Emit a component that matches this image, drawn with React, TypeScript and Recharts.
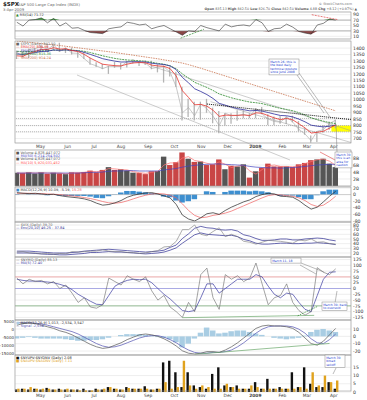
import React from "react";
import {
  ComposedChart,
  Line,
  Bar,
  Area,
  XAxis,
  YAxis,
  CartesianGrid,
  ReferenceLine,
  ReferenceArea,
  Cell,
} from "recharts";

// week ending dates, Apr 2008 - Apr 2009
const weekEnding = [
  "2008-04-04", "04-11", "04-18", "04-25", "05-02", "05-09", "05-16", "05-23", "05-30",
  "06-06", "06-13", "06-20", "06-27", "07-04", "07-11", "07-18", "07-25", "08-01",
  "08-08", "08-15", "08-22", "08-29", "09-05", "09-12", "09-19", "09-26", "10-03",
  "10-10", "10-17", "10-24", "10-31", "11-07", "11-14", "11-21", "11-28", "12-05",
  "12-12", "12-19", "12-26", "2009-01-02", "01-09", "01-16", "01-23", "01-30", "02-06",
  "02-13", "02-20", "02-27", "03-06", "03-13", "03-20", "03-27", "04-03",
];

const monthPos = [3.86, 8.3, 12.6, 17, 21.4, 25.7, 30.1, 34.4, 38.9, 43.3, 47.3, 51.7];
const monthLabels = ["May", "Jun", "Jul", "Aug", "Sep", "Oct", "Nov", "Dec", "2009", "Feb", "Mar", "Apr"];

const closes = [1370, 1332, 1390, 1397, 1413, 1388, 1425, 1375, 1400, 1361, 1360, 1318, 1278, 1262, 1240, 1260, 1257, 1260, 1296, 1298, 1292, 1283, 1242, 1252, 1255, 1213, 1099, 899, 940, 876, 968, 930, 873, 800, 896, 876, 879, 887, 872, 931, 890, 850, 832, 826, 869, 827, 770, 735, 683, 756, 768, 816, 842.5];
const highs = [1380, 1372, 1395, 1400, 1423, 1420, 1426, 1441, 1404, 1404, 1370, 1371, 1326, 1290, 1278, 1262, 1292, 1284, 1300, 1313, 1300, 1304, 1303, 1274, 1265, 1256, 1216, 1100, 1007, 985, 985, 1007, 939, 912, 897, 896, 918, 918, 896, 934, 943, 888, 871, 877, 870, 876, 835, 779, 724, 758, 804, 832, 845];
const lows = [1315, 1328, 1324, 1369, 1379, 1384, 1383, 1370, 1362, 1350, 1326, 1315, 1272, 1254, 1238, 1200, 1247, 1234, 1249, 1281, 1262, 1270, 1236, 1212, 1133, 1180, 1099, 839, 866, 840, 845, 899, 818, 741, 800, 815, 837, 857, 857, 857, 888, 804, 805, 814, 812, 826, 754, 729, 666, 672, 745, 767, 779];
const ema20 = [1340, 1337, 1358, 1374, 1390, 1389, 1403, 1392, 1395, 1381, 1373, 1351, 1322, 1298, 1275, 1269, 1264, 1262, 1276, 1285, 1288, 1286, 1268, 1262, 1259, 1241, 1184, 1070, 1018, 961, 964, 950, 919, 871, 881, 879, 879, 882, 878, 899, 895, 877, 859, 846, 855, 844, 814, 782, 742, 748, 756, 780, 805];
const ema50 = [1355, 1351, 1358, 1365, 1374, 1376, 1385, 1383, 1386, 1382, 1378, 1367, 1351, 1335, 1318, 1308, 1299, 1292, 1293, 1294, 1294, 1292, 1283, 1277, 1273, 1262, 1233, 1173, 1131, 1085, 1064, 1040, 1010, 972, 958, 943, 931, 923, 914, 917, 912, 901, 889, 878, 876, 867, 850, 829, 803, 795, 790, 795, 803];
const ema100 = [1375, 1372, 1373, 1375, 1378, 1380, 1384, 1385, 1386, 1384, 1381, 1375, 1365, 1353, 1340, 1330, 1320, 1313, 1308, 1305, 1302, 1298, 1290, 1282, 1275, 1263, 1240, 1200, 1168, 1135, 1115, 1095, 1072, 1045, 1030, 1015, 1003, 992, 982, 977, 970, 958, 945, 933, 925, 915, 900, 882, 860, 846, 834, 823, 815];
const sma200 = [1455, 1450, 1445, 1440, 1435, 1430, 1425, 1420, 1414, 1408, 1402, 1396, 1390, 1384, 1378, 1372, 1366, 1359, 1352, 1345, 1338, 1331, 1324, 1317, 1309, 1301, 1293, 1284, 1272, 1258, 1244, 1229, 1214, 1199, 1184, 1169, 1154, 1139, 1124, 1109, 1094, 1079, 1064, 1049, 1034, 1019, 1004, 989, 974, 959, 944, 929, 914];

const rsi = [62, 48, 70, 72, 78, 60, 76, 48, 60, 40, 42, 32, 24, 22, 20, 38, 42, 45, 62, 58, 52, 55, 38, 45, 50, 38, 26, 14, 30, 28, 50, 42, 36, 30, 55, 45, 50, 52, 48, 72, 60, 28, 38, 40, 55, 44, 28, 22, 18, 52, 58, 74, 70];

const volume = [3.8, 3.7, 3.9, 3.6, 3.9, 3.5, 3.8, 3.6, 3.4, 3.9, 3.8, 4.0, 4.4, 3.9, 4.6, 5.4, 4.6, 4.8, 4.4, 3.8, 3.7, 3.4, 4.2, 4.3, 8.4, 6.0, 6.8, 9.6, 7.8, 6.9, 7.0, 6.0, 6.2, 7.6, 4.8, 5.8, 5.6, 6.2, 2.4, 4.2, 5.2, 6.4, 5.6, 5.6, 5.6, 5.4, 6.2, 6.6, 7.4, 7.6, 7.8, 6.4, 5.4];
const volMa50 = [3.7, 3.7, 3.7, 3.7, 3.7, 3.7, 3.7, 3.7, 3.7, 3.7, 3.7, 3.8, 3.9, 3.9, 4.0, 4.2, 4.3, 4.3, 4.4, 4.4, 4.3, 4.3, 4.3, 4.3, 4.6, 4.8, 5.0, 5.4, 5.7, 5.9, 6.1, 6.2, 6.3, 6.3, 6.2, 6.1, 6.0, 5.9, 5.6, 5.4, 5.3, 5.2, 5.2, 5.1, 5.2, 5.3, 5.4, 5.6, 5.8, 6.0, 6.1, 6.2, 6.2];
const volMa10 = [3.7, 3.7, 3.8, 3.7, 3.8, 3.7, 3.7, 3.7, 3.5, 3.7, 3.8, 3.9, 4.2, 4.1, 4.3, 5.0, 4.9, 4.7, 4.6, 4.1, 3.8, 3.6, 3.9, 4.2, 6.0, 6.6, 6.6, 8.0, 8.4, 7.3, 7.0, 6.5, 6.1, 6.9, 6.2, 5.3, 5.7, 5.9, 4.3, 3.4, 4.7, 5.8, 6.0, 5.6, 5.6, 5.5, 5.8, 6.4, 7.0, 7.5, 7.7, 7.1, 5.9];

const macd = [6, 4, 3, 4, 2, 0, 1, -3, -6, -8, -10, -13, -18, -26, -32, -30, -25, -18, -8, -2, 2, 5, 6, 2, -4, -10, -30, -62, -74, -80, -70, -58, -55, -60, -48, -38, -30, -22, -16, -6, 0, 4, 2, -5, -6, -8, -18, -32, -44, -38, -22, -5, 10];
const macdSignal = [4, 4, 4, 3, 3, 2, 1, 0, -2, -4, -6, -9, -12, -16, -21, -25, -26, -24, -19, -13, -7, -2, 2, 3, 2, -2, -10, -28, -48, -63, -70, -68, -63, -60, -56, -50, -42, -34, -26, -18, -10, -3, 0, -1, -3, -5, -10, -18, -30, -36, -32, -20, -5];
const macdHist = [2, 0, -1, 1, -1, -2, 0, -3, -4, -4, -4, -4, -6, -10, -11, -5, 1, 6, 11, 11, 9, 7, 4, -1, -6, -8, -18, -24, -20, -14, 0, 10, 8, 0, 8, 12, 12, 12, 10, 12, 10, 7, 2, -4, -3, -3, -8, -14, -14, -2, 10, 15, 15];

const vix = [22, 23, 20, 20, 18, 19, 17, 19, 18, 23, 22, 23, 24, 24, 27, 24, 23, 23, 21, 21, 19, 20, 23, 25, 33, 34, 45, 70, 70, 80, 60, 57, 66, 74, 55, 60, 55, 45, 43, 39, 43, 47, 46, 45, 43, 41, 48, 46, 50, 43, 44, 40, 39];
const vixUpper = [24, 24, 24, 23, 22, 21, 20, 20, 20, 21, 22, 24, 25, 26, 27, 28, 27, 26, 25, 24, 23, 22, 23, 24, 26, 32, 37, 51, 61, 73, 77, 74, 73, 70, 69, 70, 67, 59, 56, 51, 47, 47, 48, 50, 50, 48, 48, 50, 51, 52, 51, 48, 46];
const vixLower = [20, 20, 20, 19, 18, 17, 17, 16, 16, 17, 18, 19, 21, 21, 22, 23, 22, 22, 21, 20, 19, 18, 19, 20, 22, 26, 31, 41, 50, 59, 63, 60, 59, 58, 57, 58, 55, 49, 46, 41, 39, 39, 40, 41, 41, 40, 40, 41, 41, 42, 41, 40, 38];

const nymo = [45, 20, 40, 30, 35, 20, 30, 0, 15, -20, -60, -40, -80, -85, -70, 45, 30, 15, 55, 40, 30, 50, -10, -50, -30, -80, -100, -125, -60, -100, 60, 88, -40, -90, 60, 40, 55, 30, 45, 110, 20, -70, -40, -30, 20, -60, -95, -115, -100, 90, 70, 60, 85];
const nymoMa = [40, 35, 32, 32, 30, 28, 25, 18, 10, -5, -25, -40, -55, -68, -70, -30, 10, 25, 35, 40, 38, 40, 25, 0, -25, -45, -70, -95, -100, -95, -40, 20, 20, -20, 0, 20, 40, 40, 40, 60, 50, 10, -25, -40, -20, -25, -60, -90, -100, -30, 40, 70, 72];

const adMacd = [3000, 4000, 4500, 4000, 3000, 2000, 1000, -500, -1500, -3000, -5000, -7000, -9000, -10500, -11500, -11000, -9500, -8000, -6000, -4500, -3000, -2500, -3000, -4000, -5500, -7500, -10000, -13000, -14500, -15000, -14500, -13500, -13500, -14000, -12500, -10500, -8000, -5000, -2000, 1000, 2500, 3000, 2500, 2500, 2000, 1000, -1500, -5000, -8500, -9500, -7000, -3000, 1000];
const adSignal = [4500, 4500, 4500, 4300, 3800, 3000, 2000, 1000, 0, -1000, -2500, -4500, -6500, -8500, -10000, -10800, -10500, -9500, -8000, -6500, -5000, -4000, -3500, -3500, -4500, -6000, -8000, -10500, -12500, -14000, -14500, -14500, -14000, -14000, -13500, -12500, -10500, -8000, -5000, -2000, 500, 2000, 2500, 2500, 2500, 2000, 500, -2000, -5500, -8000, -8500, -6000, -2500];
const adHist = [-3, -2, -1, -2, -3, -3, -3, -3, -4, -5, -6, -6, -5, -5, -4, -2, 0, 2, 3, 3, 3, 2, 1, -1, -2, -4, -8, -15, -10, -3, 5, 12, 8, 4, 5, 7, 8, 8, 6, 4, 2, 0, -2, -3, -4, -3, -2, 1, 6, 9, 10, 8, 6];

const nyseUpDown = [1.5, 2, 1.5, 2, 1.5, 2.5, 1.5, 2, 1.5, 1.5, 1.5, 2, 1, 2, 1.5, 3, 2, 1.5, 3, 2, 2, 3.5, 1.5, 2, 18, 19, 12, 3, 12, 4, 3, 2, 11, 15, 4, 3, 4, 2, 2, 6, 2, 8, 2, 3, 2, 12, 3, 15, 5, 3, 3, 6, 2];
const nasdUpDown = [2, 2, 3, 2, 2, 2, 1.5, 1.5, 2, 1.5, 1, 1, 1, 1.5, 2, 3, 2, 1.5, 2.5, 2, 2, 2, 1.5, 2, 6, 2, 3, 19, 4, 2, 4, 3, 2, 2, 5, 3, 2, 2, 4, 3, 2, 2, 2, 2, 2, 2, 3, 2, 12, 4, 10, 6, 7];

const priceTicks = [700, 750, 800, 850, 900, 950, 1000, 1050, 1100, 1150, 1200, 1250, 1300, 1350, 1400];
const levels = [855, 800, 752];

const rows = weekEnding.map((d, i) => ({
  i,
  d,
  close: closes[i],
  range: [lows[i], highs[i]],
  ema20: ema20[i],
  ema50: ema50[i],
  ema100: ema100[i],
  sma200: sma200[i],
  rsi: rsi[i],
  vol: volume[i],
  volMa50: volMa50[i],
  volMa10: volMa10[i],
  macd: macd[i],
  macdSignal: macdSignal[i],
  macdHist: macdHist[i],
  vix: vix[i],
  vixUpper: vixUpper[i],
  vixLower: vixLower[i],
  nymo: nymo[i],
  nymoMa: nymoMa[i],
  adMacd: adMacd[i],
  adSignal: adSignal[i],
  adHist: adHist[i],
  nyse: nyseUpDown[i],
  nasd: nasdUpDown[i],
}));

const W = 367;
const X_DOMAIN: [number, number] = [-0.3, 54.5];
const weekTicks = Array.from({ length: 55 }, (_, i) => i);
const tickStyle = { fontSize: 4.6, fill: "#333" };
const GRID = "#e3e3e3";

const weekAxis = () => (
  <XAxis
    dataKey="i"
    type="number"
    domain={X_DOMAIN}
    ticks={weekTicks}
    tick={false}
    tickLine={false}
    axisLine={false}
    height={0}
    allowDataOverflow
  />
);

const MonthTick = (props: any) => {
  const { x, y, payload } = props;
  const label = monthLabels[monthPos.indexOf(payload.value)];
  return (
    <text
      x={x}
      y={y + 4}
      textAnchor="middle"
      fontSize={4.4}
      fontWeight={label === "2009" ? "bold" : "normal"}
      fill="#444"
    >
      {label}
    </text>
  );
};

const monthAxis = () => (
  <XAxis
    xAxisId="m"
    dataKey="i"
    type="number"
    domain={X_DOMAIN}
    ticks={monthPos}
    tick={<MonthTick />}
    tickLine={false}
    axisLine={false}
    tickSize={0}
    tickMargin={1}
    interval={0}
    height={7}
    allowDataOverflow
  />
);

const rightAxis = (domain: [number, number], ticks: number[], fmt?: (v: number) => string, id: any = 0) => (
  <YAxis
    yAxisId={id}
    orientation="right"
    width={16}
    domain={domain}
    ticks={ticks}
    interval={0}
    tick={tickStyle}
    tickFormatter={fmt}
    tickLine={false}
    axisLine={false}
    tickSize={0}
    tickMargin={2}
    allowDataOverflow
  />
);

const Panel = ({ top, h, left = 15, children }: { top: number; h: number; left?: number; children: React.ReactNode }) => (
  <div style={{ position: "absolute", left: 0, top, width: W, height: h }}>
    <ComposedChart width={W} height={h} data={rows} margin={{ top: 0, right: 0, bottom: 0, left }} barGap={0}>
      {children}
    </ComposedChart>
  </div>
);

// panel frames in page pixels
const frames = [
  [12, 39],
  [41, 143],
  [150, 186],
  [187, 222],
  [222, 257],
  [257, 320],
  [320, 355],
  [355, 391],
];

const Note = ({ x, y, w, lines }: { x: number; y: number; w: number; lines: string[] }) => (
  <g>
    <rect x={x} y={y} width={w} height={lines.length * 3.6 + 1.5} fill="#fff" stroke="#888" strokeWidth={0.5} />
    {lines.map((t, k) => (
      <text key={k} x={x + 1.2} y={y + 3.6 + k * 3.6} fontSize={3.1} fill="#2a3fd0">
        {t}
      </text>
    ))}
  </g>
);

const legendLine = (x: number, y: number, color: string, text: string, mark = "—") => (
  <text x={x} y={y} fontSize={3.5} fill={color}>
    {mark} {text}
  </text>
);

export default function App() {
  return (
    <div style={{ position: "absolute", left: 0, top: 0, width: W, height: 400, background: "#fff", fontFamily: "DejaVu Sans, sans-serif" }}>
      <style>{".recharts-surface { overflow: visible; }"}</style>

      {/* RSI */}
      <Panel top={12} h={27}>
        <CartesianGrid stroke={GRID} strokeWidth={0.6} />
        {weekAxis()}
        {rightAxis([0, 100], [10, 30, 50, 70, 90])}
        <ReferenceLine y={70} stroke="#888" strokeWidth={0.6} />
        <ReferenceLine y={30} stroke="#888" strokeWidth={0.6} />
        <Area dataKey={(r: any) => Math.max(r.rsi, 70)} baseValue={70} fill="#3e9b3e" fillOpacity={1} stroke="none" isAnimationActive={false} />
        <Area dataKey={(r: any) => Math.min(r.rsi, 30)} baseValue={30} fill="#8a4646" fillOpacity={1} stroke="none" isAnimationActive={false} />
        <Line dataKey="rsi" stroke="#333" strokeWidth={0.6} dot={false} isAnimationActive={false} />
        <ReferenceLine segment={[{ x: 48.1, y: 90 }, { x: 52.3, y: 72 }]} stroke="#e04040" strokeWidth={0.7} strokeDasharray="2 1" />
        <ReferenceLine segment={[{ x: 26.7, y: 3 }, { x: 30.5, y: 36 }]} stroke="#2c8a2c" strokeWidth={0.7} strokeDasharray="2 1" />
      </Panel>

      {/* price */}
      <Panel top={41} h={109}>
        <CartesianGrid stroke={GRID} strokeWidth={0.6} />
        {weekAxis()}
        {monthAxis()}
        {rightAxis([665, 1455], priceTicks)}
        <ReferenceArea x1={51.3} x2={54.5} y1={752} y2={800} fill="#ffff00" fillOpacity={1} stroke="none" />
        {levels.map((v) => (
          <ReferenceLine key={v} y={v} stroke="#aaa" strokeWidth={0.8} strokeDasharray="1 1" />
        ))}
        <ReferenceLine segment={[{ x: 22, y: 1260 }, { x: 54.5, y: 760 }]} stroke="#9a9a9a" strokeWidth={0.5} ifOverflow="hidden" />
        <ReferenceLine segment={[{ x: 31.6, y: 985 }, { x: 54.5, y: 669 }]} stroke="#9a9a9a" strokeWidth={0.5} ifOverflow="hidden" />
        <Bar dataKey="range" barSize={1.3} fill="#b4b4b4" isAnimationActive={false} />
        <Line dataKey="close" stroke="#a4a4a4" strokeWidth={0.6} dot={false} isAnimationActive={false} />
        <Line dataKey="sma200" stroke="#c8704a" strokeWidth={0.8} strokeDasharray="1.5 1" dot={false} isAnimationActive={false} />
        <Line dataKey="ema100" stroke="#2d8a2d" strokeWidth={0.8} strokeDasharray="2 0.8" dot={false} isAnimationActive={false} />
        <Line dataKey="ema50" stroke="#2b2b9a" strokeWidth={0.8} dot={false} isAnimationActive={false} />
        <Line dataKey="ema20" stroke="#e8322c" strokeWidth={0.8} dot={false} isAnimationActive={false} />
        <ReferenceLine segment={[{ x: 31, y: 967 }, { x: 54.5, y: 846 }]} stroke="#111" strokeWidth={1} strokeDasharray="1 1" />
      </Panel>

      {/* volume */}
      <Panel top={150} h={36}>
        <CartesianGrid stroke={GRID} strokeWidth={0.6} />
        {weekAxis()}
        {rightAxis([0, 10.3], [2, 4, 6, 8], (v) => `${v}B`)}
        <Bar dataKey="vol" barSize={5.4} isAnimationActive={false}>
          {rows.map((r, k) => (
            <Cell key={k} fill={k > 0 && closes[k] < closes[k - 1] ? "#c94545" : "#555"} />
          ))}
        </Bar>
        <Line dataKey="volMa10" stroke="#ff7070" strokeWidth={0.7} dot={false} isAnimationActive={false} />
        <Line dataKey="volMa50" stroke="#4444c0" strokeWidth={0.7} dot={false} isAnimationActive={false} />
      </Panel>

      {/* MACD */}
      <Panel top={187} h={35}>
        <CartesianGrid stroke={GRID} strokeWidth={0.6} />
        {weekAxis()}
        {rightAxis([-83, 23], [20, 0, -20, -40, -60, -80])}
        <ReferenceLine y={0} stroke="#aaa" strokeWidth={0.5} />
        <Bar dataKey="macdHist" barSize={6.2} fill="#3d8fd0" isAnimationActive={false} />
        <Line dataKey="macdSignal" stroke="#ef6060" strokeWidth={0.7} dot={false} isAnimationActive={false} />
        <Line dataKey="macd" stroke="#222" strokeWidth={0.7} dot={false} isAnimationActive={false} />
      </Panel>

      {/* VIX */}
      <Panel top={222} h={35}>
        <CartesianGrid stroke={GRID} strokeWidth={0.6} />
        {weekAxis()}
        {rightAxis([11.4, 86.4], [20, 30, 40, 50, 60, 70, 80])}
        <Line dataKey="vixUpper" stroke="#2a2a90" strokeWidth={0.7} dot={false} isAnimationActive={false} />
        <Line dataKey="vixLower" stroke="#2a2a90" strokeWidth={0.7} dot={false} isAnimationActive={false} />
        <Line dataKey="vix" stroke="#777" strokeWidth={0.6} dot={false} isAnimationActive={false} />
      </Panel>

      {/* breadth oscillator */}
      <Panel top={257} h={63}>
        <CartesianGrid stroke={GRID} strokeWidth={0.6} />
        {weekAxis()}
        {rightAxis([-136, 136], [125, 100, 75, 50, 25, 0, -25, -50, -75, -100, -125])}
        <ReferenceLine y={50} stroke="#f09090" strokeWidth={0.7} />
        <ReferenceLine y={0} stroke="#8c8ce0" strokeWidth={0.7} />
        <ReferenceLine y={-75} stroke="#70a870" strokeWidth={0.7} />
        <Line dataKey="nymoMa" stroke="#3a3aa0" strokeWidth={0.7} dot={false} isAnimationActive={false} />
        <Line dataKey="nymo" stroke="#666" strokeWidth={0.6} dot={false} isAnimationActive={false} />
        <ReferenceLine segment={[{ x: 27, y: -126 }, { x: 48.5, y: -116 }]} stroke="#6aa86a" strokeWidth={0.7} />
        <ReferenceLine segment={[{ x: 45.8, y: -118 }, { x: 49, y: -78 }]} stroke="#2c8a2c" strokeWidth={0.7} strokeDasharray="1.5 1" />
      </Panel>

      {/* A/D MACD */}
      <Panel top={320} h={35} left={0}>
        <CartesianGrid stroke={GRID} strokeWidth={0.6} yAxisId="r" />
        {weekAxis()}
        <YAxis
          yAxisId="l"
          orientation="left"
          width={15}
          domain={[-15625, 6250]}
          ticks={[5000, 0, -5000, -10000, -15000]}
          interval={0}
          tick={{ fontSize: 4, fill: "#333" }}
          tickLine={false}
          axisLine={false}
          tickSize={0}
          tickMargin={1}
          allowDataOverflow
        />
        {rightAxis([-25.4, 22.3], [10, 0, -10, -20], undefined, "r")}
        <Bar yAxisId="r" dataKey="adHist" barSize={6.2} fill="#a9cde3" isAnimationActive={false} />
        <Line yAxisId="l" dataKey="adSignal" stroke="#5050b0" strokeWidth={0.7} dot={false} isAnimationActive={false} />
        <Line yAxisId="l" dataKey="adMacd" stroke="#555" strokeWidth={0.7} dot={false} isAnimationActive={false} />
        <ReferenceLine yAxisId="l" segment={[{ x: 29, y: -15200 }, { x: 51, y: -8400 }]} stroke="#6aa86a" strokeWidth={0.7} />
      </Panel>

      {/* up/down volume ratios */}
      <Panel top={355} h={44}>
        <CartesianGrid stroke={GRID} strokeWidth={0.6} />
        {weekAxis()}
        {monthAxis()}
        {rightAxis([0, 22.5], [15, 10, 5, 0])}
        <Bar dataKey="nyse" barSize={2.4} fill="#111" isAnimationActive={false} />
        <Bar dataKey="nasd" barSize={2.4} fill="#e0a21e" isAnimationActive={false} />
      </Panel>

      {/* text, frames and notes */}
      <svg width={W} height={400} style={{ position: "absolute", left: 0, top: 0, pointerEvents: "none" }}>
        {frames.map(([a, b], k) => (
          <rect key={k} x={15} y={a} width={336} height={b - a} fill="none" stroke="#9a9a9a" strokeWidth={0.6} />
        ))}

        <text x={3} y={6} fontSize={5.5} fontWeight="bold" fill="#222">$SPX</text>
        <text x={18} y={6} fontSize={3.8} fill="#666">S&amp;P 500 Large Cap Index (INDX)</text>
        <text x={3} y={11} fontSize={3.8} fill="#666">3-Apr-2009</text>
        <text x={352} y={4.5} fontSize={3.4} fill="#777" textAnchor="end">© StockCharts.com</text>
        <text x={357} y={10} fontSize={3.3} fill="#555" textAnchor="end">
          <tspan fontWeight="bold">Open</tspan> 835.13 <tspan fontWeight="bold">High</tspan> 842.50{" "}
          <tspan fontWeight="bold">Low</tspan> 826.70 <tspan fontWeight="bold">Close</tspan> 842.50{" "}
          <tspan fontWeight="bold">Volume</tspan> 4.8B <tspan fontWeight="bold">Chg</tspan> +8.12 (+0.97%) ▲
        </text>

        <text x={16} y={15.5} fontSize={3.5} fill="#333"><tspan fill="#2c8a2c">▲</tspan> RSI(14) 71.72</text>

        {legendLine(16, 45, "#666", "$SPX (Daily) 842.50", "■")}
        {legendLine(16, 48.4, "#e8322c", "EMA(20) 804.95")}
        {legendLine(16, 51.8, "#2b2b9a", "EMA(50) 802.74")}
        {legendLine(16, 55.2, "#2d8a2d", "EMA(100) 815.36")}
        {legendLine(16, 58.6, "#c8704a", "SMA(200) 914.24")}

        {legendLine(16, 153.6, "#555", "Volume 4,828,447,072", "■")}
        {legendLine(16, 157, "#4444c0", "MA(50) 6,214,254,502")}
        {legendLine(16, 160.4, "#555", "Volume 4,828,447,072", "■")}
        {legendLine(16, 163.8, "#ff5050", "MA(10) 5,920,031,452")}

        <text x={16} y={190.5} fontSize={3.5} fill="#333">
          <tspan fill="#3d8fd0">■</tspan> MACD(12,26,9) 10.09, -5.19, <tspan fill="#ef6060">15.28</tspan>
        </text>

        {legendLine(16, 225.5, "#666", "$VIX (Daily) 39.70")}
        {legendLine(16, 228.9, "#2a2a90", "Env(20,10) 46.25 - 37.84")}

        {legendLine(16, 260.5, "#555", "$NYMO (Daily) 85.13")}
        {legendLine(16, 263.9, "#3a3aa0", "MA(5) 72.40")}

        <text x={16} y={323.5} fontSize={3.5} fill="#333">
          <tspan fill="#a9cde3">■</tspan> MACD(12,26,9) 1,013, -2,534, 3,547
        </text>
        {legendLine(16, 326.9, "#5050b0", "Signal -2,534")}

        {legendLine(16, 358.5, "#111", "$NYUPV:$NYDNV (Daily) 2.08", "■")}
        {legendLine(16, 361.9, "#e0a21e", "$NAUPV:$NADNV (Daily) 7.11", "■")}

        {/* leader lines for the notes */}
        <line x1={297} y1={75} x2={324} y2={113} stroke="#777" strokeWidth={0.5} />
        <line x1={299} y1={73} x2={330} y2={117} stroke="#777" strokeWidth={0.5} />
        <line x1={336} y1={124} x2={337} y2={152} stroke="#777" strokeWidth={0.5} />
        <line x1={77} y1={75} x2={290} y2={160} stroke="#9a9a9a" strokeWidth={0.5} />
        <line x1={320} y1={152} x2={335} y2={160} stroke="#e04040" strokeWidth={0.6} />
        <line x1={300} y1={265} x2={316} y2={274} stroke="#777" strokeWidth={0.5} />
        <line x1={301} y1={263} x2={324} y2={272} stroke="#777" strokeWidth={0.5} />
        <line x1={335} y1={303} x2={337} y2={291} stroke="#777" strokeWidth={0.5} />
        <line x1={336} y1={368} x2={333} y2={374} stroke="#777" strokeWidth={0.5} />

        <Note x={269} y={59} w={30} lines={["March 26: this is", "the best daily", "technical posture", "since June 2008"]} />
        <Note x={335} y={152} w={17} lines={["March 30", "this is an", "area for", "caution"]} />
        <Note x={271} y={258} w={30} lines={["March 11, 18"]} />
        <Note x={322} y={302} w={25} lines={["March 30: back", "to oversold"]} />
        <Note x={325} y={355} w={20} lines={["March 30", "broad", "selloff"]} />
      </svg>
    </div>
  );
}
